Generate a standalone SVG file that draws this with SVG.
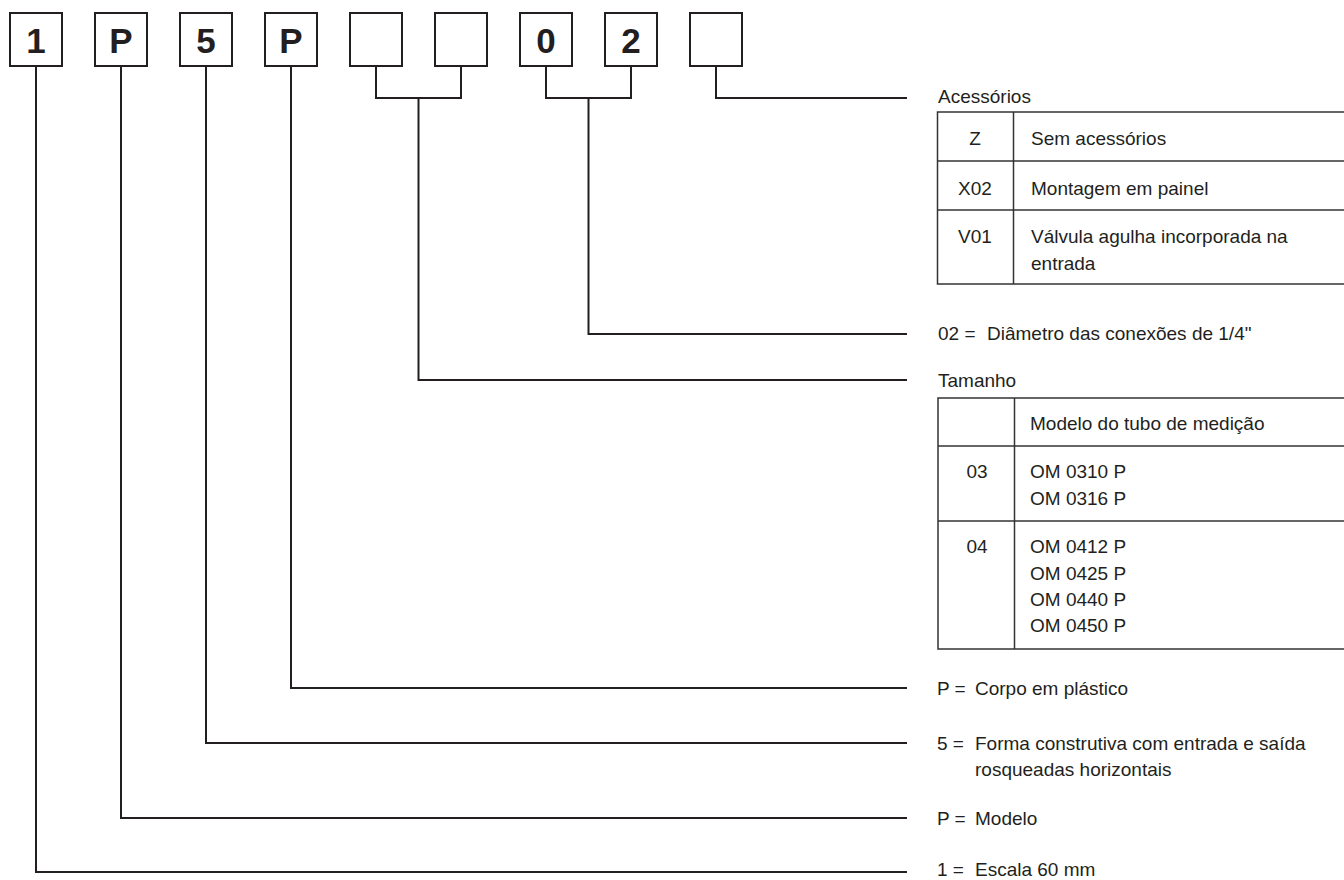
<svg xmlns="http://www.w3.org/2000/svg" width="1344" height="880" viewBox="0 0 1344 880">
<style>
.box{fill:#fff;stroke:#231f20;stroke-width:2}
.dig{font-family:"Liberation Sans",Arial,sans-serif;font-weight:bold;font-size:35px;fill:#231f20;text-anchor:middle}
.ln{fill:none;stroke:#231f20;stroke-width:2}
.tb{fill:none;stroke:#333;stroke-width:1.5}
.t{font-family:"Liberation Sans",Arial,sans-serif;font-size:19px;fill:#231f20}
.c{text-anchor:middle}
</style>
<rect width="1344" height="880" fill="#fff"/>
<g id="code">
<g id="b1"><rect class="box" x="10" y="13" width="52" height="53"/><text class="dig" x="36" y="53">1</text></g>
<g id="b2"><rect class="box" x="95" y="13" width="52" height="53"/><text class="dig" x="121" y="53">P</text></g>
<g id="b3"><rect class="box" x="180" y="13" width="52" height="53"/><text class="dig" x="206" y="53">5</text></g>
<g id="b4"><rect class="box" x="265" y="13" width="52" height="53"/><text class="dig" x="291" y="53">P</text></g>
<g id="b5"><rect class="box" x="350" y="13" width="52" height="53"/></g>
<g id="b6"><rect class="box" x="435" y="13" width="52" height="53"/></g>
<g id="b7"><rect class="box" x="520" y="13" width="52" height="53"/><text class="dig" x="546" y="53">0</text></g>
<g id="b8"><rect class="box" x="605" y="13" width="52" height="53"/><text class="dig" x="631" y="53">2</text></g>
<g id="b9"><rect class="box" x="690" y="13" width="52" height="53"/></g>
</g>
<g id="connectors">
<polyline class="ln" points="36,66 36,872 907,872"/>
<polyline class="ln" points="121,66 121,818 907,818"/>
<polyline class="ln" points="206,66 206,743 907,743"/>
<polyline class="ln" points="291,66 291,688 907,688"/>
<polyline class="ln" points="376,66 376,98 461,98 461,66"/>
<polyline class="ln" points="418.5,98 418.5,380 907,380"/>
<polyline class="ln" points="546,66 546,98 631,98 631,66"/>
<polyline class="ln" points="588.5,98 588.5,334 907,334"/>
<polyline class="ln" points="716,66 716,98 907,98"/>
</g>
<g id="acessorios">
<text class="t" x="938" y="103">Acessórios</text>
<rect class="tb" x="937.5" y="112" width="410" height="172"/>
<line class="tb" x1="937.5" y1="161" x2="1344" y2="161"/>
<line class="tb" x1="937.5" y1="210" x2="1344" y2="210"/>
<line class="tb" x1="1013.5" y1="112" x2="1013.5" y2="284"/>
<text class="t c" x="975" y="145">Z</text>
<text class="t" x="1031" y="145">Sem acessórios</text>
<text class="t c" x="975" y="195">X02</text>
<text class="t" x="1031" y="195">Montagem em painel</text>
<text class="t c" x="975" y="243">V01</text>
<text class="t" x="1031" y="243">Válvula agulha incorporada na</text>
<text class="t" x="1031" y="270">entrada</text>
</g>
<g id="conexoes">
<text class="t" x="938" y="340">02 = <tspan x="987">Diâmetro das conexões de 1/4"</tspan></text>
</g>
<g id="tamanho">
<text class="t" x="938" y="387">Tamanho</text>
<rect class="tb" x="938" y="398" width="410" height="251"/>
<line class="tb" x1="938" y1="446" x2="1344" y2="446"/>
<line class="tb" x1="938" y1="521" x2="1344" y2="521"/>
<line class="tb" x1="1014.5" y1="398" x2="1014.5" y2="649"/>
<text class="t" x="1030" y="430">Modelo do tubo de medição</text>
<text class="t c" x="977" y="478">03</text>
<text class="t" x="1030" y="478">OM 0310 P</text>
<text class="t" x="1030" y="505">OM 0316 P</text>
<text class="t c" x="977" y="553">04</text>
<text class="t" x="1030" y="553">OM 0412 P</text>
<text class="t" x="1030" y="580">OM 0425 P</text>
<text class="t" x="1030" y="606">OM 0440 P</text>
<text class="t" x="1030" y="632">OM 0450 P</text>
</g>
<g id="corpo"><text class="t" x="937" y="695">P = <tspan x="975">Corpo em plástico</tspan></text></g>
<g id="forma">
<text class="t" x="937" y="750">5 = <tspan x="975">Forma construtiva com entrada e saída</tspan></text>
<text class="t" x="975" y="776">rosqueadas horizontais</text>
</g>
<g id="modelo"><text class="t" x="937" y="825">P = <tspan x="975">Modelo</tspan></text></g>
<g id="escala"><text class="t" x="937" y="876">1 = <tspan x="975">Escala 60 mm</tspan></text></g>
</svg>
